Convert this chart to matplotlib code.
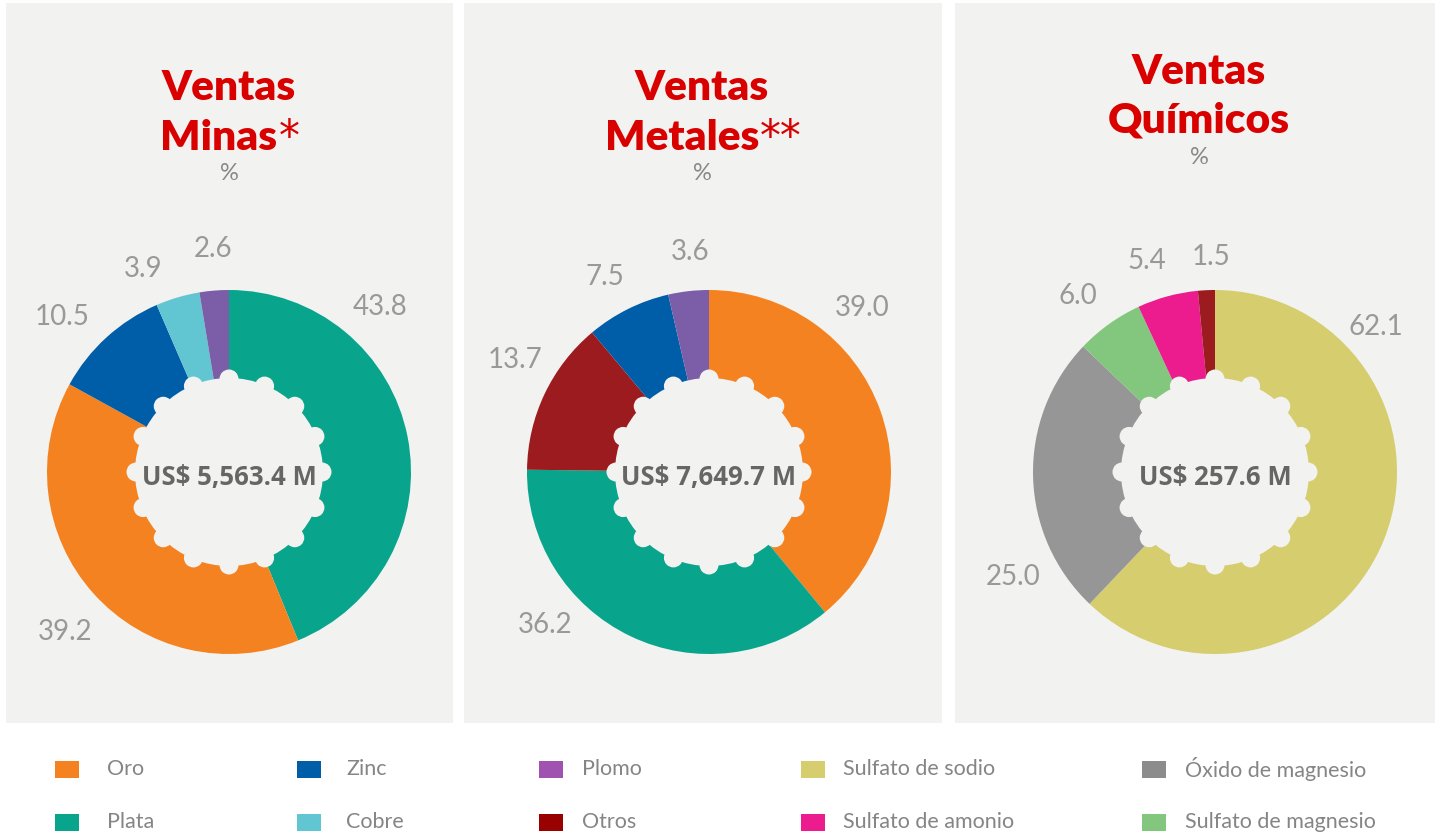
import numpy as np
import matplotlib.pyplot as plt
from matplotlib.patches import Rectangle, Circle

# data
minas_labels = ['Plata', 'Oro', 'Zinc', 'Cobre', 'Plomo']
minas_values = [43.8, 39.2, 10.5, 3.9, 2.6]
metales_labels = ['Oro', 'Plata', 'Otros', 'Zinc', 'Plomo']
metales_values = [39.0, 36.2, 13.7, 7.5, 3.6]
quimicos_labels = ['Sulfato de sodio', 'Óxido de magnesio', 'Sulfato de magnesio',
                   'Sulfato de amonio', 'Otros']
quimicos_values = [62.1, 25.0, 6.0, 5.4, 1.5]
totals = ['US$ 5,563.4 M', 'US$ 7,649.7 M', 'US$ 257.6 M']
titles = [('Ventas', 'Minas', '*'), ('Ventas', 'Metales', '**'), ('Ventas', 'Químicos', '')]

legend_rows = [['Oro', 'Zinc', 'Plomo', 'Sulfato de sodio', 'Óxido de magnesio'],
               ['Plata', 'Cobre', 'Otros', 'Sulfato de amonio', 'Sulfato de magnesio']]

colors = {'Oro': '#F58220', 'Plata': '#08A48C', 'Zinc': '#005DA8', 'Cobre': '#62C6D2',
          'Plomo': '#7B5EA7', 'Otros': '#9B1B1F', 'Sulfato de sodio': '#D6CD6E',
          'Óxido de magnesio': '#979696', 'Sulfato de magnesio': '#82C77D',
          'Sulfato de amonio': '#EC1C8E'}
legend_colors = dict(colors, Plomo='#A052B0', Otros='#990000', **{'Óxido de magnesio': '#8C8C8C'})

# label angles (deg) chosen to match the layout of the original
label_angles = [[47.5, -135.7, 137, 113, 94],
                [47, -137, 150, 118, 95],
                [42, -152.5, 128, 108, 91]]
label_dist = [[224, 229, 228, 220, 224],
              [224, 224, 224, 221, 221],
              [216, 228, 223, 222, 215]]

W, H = 1441, 835
BG = '#F2F2F0'
RED = '#D90000'
plt.rcParams['font.family'] = ['Lato', 'DejaVu Sans']

fig = plt.figure(figsize=(W / 100, H / 100), dpi=100)
ax = fig.add_axes([0, 0, 1, 1])

panels = [(6, 453), (464, 942), (955, 1435)]
for x0, x1 in panels:
    ax.add_patch(Rectangle((x0, H - 723), x1 - x0, 720, facecolor=BG, edgecolor='none', zorder=0))

centers = [229, 709, 1215]
title_x = [229, 702, 1199]
cy = H - 472
R = 182
title_y = [(H - 88, H - 138, H - 173), (H - 88, H - 138, H - 173), (H - 72, H - 121, H - 157)]

series = [(minas_labels, minas_values), (metales_labels, metales_values),
          (quimicos_labels, quimicos_values)]

for i, (labs, vals) in enumerate(series):
    cx = centers[i]
    ax.pie(vals, colors=[colors[l] for l in labs], startangle=90, counterclock=False,
           radius=R, center=(cx, cy), wedgeprops=dict(edgecolor='none', linewidth=0))
    # scalloped hole
    ax.add_patch(Circle((cx, cy), 94, facecolor=BG, edgecolor='none', zorder=5))
    for a in np.deg2rad(np.arange(90, 450, 22.5)):
        ax.add_patch(Circle((cx + 93 * np.cos(a), cy + 93 * np.sin(a)), 9.5,
                            facecolor=BG, edgecolor='none', zorder=5))
    ax.text(cx, cy - 6, totals[i], ha='center', va='center', fontsize=18.5,
            fontweight='bold', color='#666666', zorder=6, family=['Open Sans', 'DejaVu Sans'])
    for v, ang, d in zip(vals, label_angles[i], label_dist[i]):
        a = np.deg2rad(ang)
        ax.text(cx + d * np.cos(a), cy + d * np.sin(a), f'{v:.1f}', ha='center', va='center',
                fontsize=20, color='#999999')

ax.set_xlim(0, W)
ax.set_ylim(0, H)
ax.set_aspect('equal')
ax.axis('off')

for i in range(3):
    cx = title_x[i]
    l1, l2, star = titles[i]
    y1, y2, y3 = title_y[i]
    ax.text(cx, y1, l1, ha='center', va='center', fontsize=30.5, fontweight='heavy', color=RED)
    t = ax.text(cx - (10 * len(star)), y2, l2, ha='center', va='center', fontsize=30.5,
                fontweight='heavy', color=RED)
    if star:
        fig.canvas.draw()
        bb = t.get_window_extent()
        x_end = ax.transData.inverted().transform((bb.x1, bb.y1))[0]
        ax.text(x_end + 1, y2, star, ha='left', va='center', fontsize=30,
                color=RED, family='DejaVu Sans')
    ax.text(cx, y3, '%', ha='center', va='center', fontsize=17, color='#888888')

# legend
leg_x = [55, 297, 539, 801, 1142]
leg_gap = [28, 25, 19, 18, 19]
leg_y = [H - 769, H - 822]
for r, row in enumerate(legend_rows):
    for c, name in enumerate(row):
        x = leg_x[c]
        ax.add_patch(Rectangle((x, leg_y[r] - 8.5), 24, 17, facecolor=legend_colors[name],
                               edgecolor='none'))
        ax.text(x + 24 + leg_gap[c], leg_y[r], name, ha='left', va='center', fontsize=15.5,
                color='#858585')

fig.savefig('out.png', dpi=100, facecolor='white')
